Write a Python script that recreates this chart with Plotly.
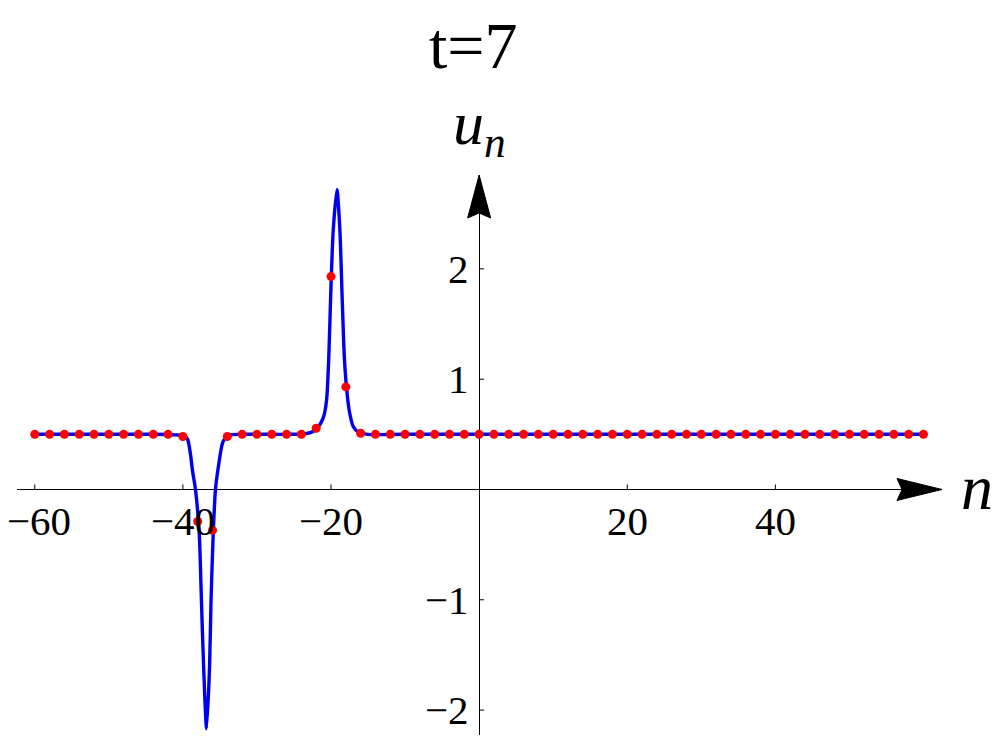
import plotly.graph_objects as go

# lattice sites n and u_n values (red dots)
SITES = [-60, -58, -56, -54, -52, -50, -48, -46, -44, -42, -40, -38, -36, -34,
         -32, -30, -28, -26, -24, -22, -20, -18, -16, -14, -12, -10, -8, -6,
         -4, -2, 0, 2, 4, 6, 8, 10, 12, 14, 16, 18, 20, 22, 24, 26, 28, 30, 32,
         34, 36, 38, 40, 42, 44, 46, 48, 50, 52, 54, 56, 58, 60]
SITE_U = [0.5, 0.5, 0.5, 0.5, 0.5, 0.5, 0.5, 0.5, 0.5, 0.5, 0.48, -0.29, -0.37,
          0.48, 0.5, 0.5, 0.5, 0.5, 0.5, 0.555, 1.93, 0.93, 0.51, 0.5, 0.5,
          0.5, 0.5, 0.5, 0.5, 0.5, 0.5, 0.5, 0.5, 0.5, 0.5, 0.5, 0.5, 0.5,
          0.5, 0.5, 0.5, 0.5, 0.5, 0.5, 0.5, 0.5, 0.5, 0.5, 0.5, 0.5, 0.5,
          0.5, 0.5, 0.5, 0.5, 0.5, 0.5, 0.5, 0.5, 0.5, 0.5]

# continuous solution (blue curve), samples
CURVE_N = [-60, -44, -41, -40, -39.4, -39.0, -38.7, -38.3, -37.8, -37.5,
           -37.2, -36.8, -36.4, -36.2, -35.9, -35.6, -35.2, -34.6, -33.9,
           -32, -26, -23.5, -22.6, -21.85, -21.0, -20.6, -20.3, -20.0,
           -19.7, -19.2, -18.8, -18.5, -18.2, -17.9, -17.5, -17.0, -16.3,
           -15, -10, 60]
CURVE_U = [0.5, 0.5, 0.495, 0.49, 0.46, 0.33, 0.17, 0.0, -0.39, -1.0,
           -1.61, -2.17, -1.61, -1.0, -0.39, 0.0, 0.21, 0.43, 0.49,
           0.5, 0.5, 0.505, 0.52, 0.555, 0.66, 0.81, 1.2, 1.85,
           2.35, 2.72, 2.35, 1.75, 1.2, 0.92, 0.7, 0.57, 0.52,
           0.5, 0.5, 0.5]

X_TICKS = [-60, -40, -20, 20, 40]
Y_TICKS = [-2, -1, 1, 2]
X_RANGE = [-62.4, 62.5]
Y_RANGE = [-2.226, 2.851]

SERIF = "Liberation Serif, Times New Roman, serif"


def _lbl(v):
    return f"\u2212{abs(v)}" if v < 0 else str(v)


fig = go.Figure()
fig.add_trace(go.Scatter(
    x=CURVE_N, y=CURVE_U, mode="lines",
    line=dict(color="#0000f0", width=3.4, shape="spline", smoothing=0.7),
    hoverinfo="skip",
))
fig.add_trace(go.Scatter(
    x=SITES, y=SITE_U, mode="markers",
    marker=dict(color="#ff0000", size=9, line=dict(width=0)),
))

shapes = []
for t in X_TICKS:
    shapes.append(dict(type="line", xref="x", yref="y", x0=t, x1=t,
                       ysizemode="pixel", yanchor=0, y0=0, y1=5,
                       line=dict(color="black", width=1)))
for t in Y_TICKS:
    shapes.append(dict(type="line", xref="x", yref="y", y0=t, y1=t,
                       xsizemode="pixel", xanchor=0, x0=0, x1=5,
                       line=dict(color="black", width=1)))
# arrow heads at the ends of both axes
shapes.append(dict(type="path", xref="x", yref="y",
                   xsizemode="pixel", xanchor=X_RANGE[1],
                   ysizemode="pixel", yanchor=0,
                   path="M0,0 L-45,11 L-40,0 L-45,-11 Z",
                   fillcolor="black", line=dict(color="black", width=1)))
shapes.append(dict(type="path", xref="x", yref="y",
                   xsizemode="pixel", xanchor=0,
                   ysizemode="pixel", yanchor=Y_RANGE[1],
                   path="M0,0 L-11.5,-43 L0,-38 L11.5,-43 Z",
                   fillcolor="black", line=dict(color="black", width=1)))

annotations = []
for t in X_TICKS:
    # leftmost label nudged so it stays inside the page
    annotations.append(dict(x=t, y=0, xref="x", yref="y", text=_lbl(t),
                            showarrow=False, xanchor="center",
                            yanchor="middle", yshift=-32,
                            xshift=4 if t == X_TICKS[0] else 0,
                            font=dict(family=SERIF, size=41, color="black")))
for t in Y_TICKS:
    annotations.append(dict(x=0, y=t, xref="x", yref="y", text=_lbl(t),
                            showarrow=False, xanchor="right",
                            yanchor="middle", xshift=-8,
                            font=dict(family=SERIF, size=41, color="black")))
annotations.append(dict(x=0.4935, y=1.232, xref="paper", yref="paper",
                        text="t=7", showarrow=False,
                        xanchor="center", yanchor="middle",
                        font=dict(family=SERIF, size=66, color="black")))
annotations.append(dict(x=0, y=1.084, xref="x", yref="paper",
                        text="<i>u</i><sub><i>n</i></sub>", showarrow=False,
                        xanchor="center", yanchor="middle",
                        font=dict(family=SERIF, size=62, color="black")))
annotations.append(dict(x=1.038, y=0, xref="paper", yref="y",
                        text="<i>n</i>", showarrow=False,
                        xanchor="center", yanchor="middle", yshift=2,
                        font=dict(family=SERIF, size=64, color="black")))

# page body adds an 8px offset, so the figure is shrunk to fit the window
fig.update_layout(
    width=992, height=730,
    paper_bgcolor="white", plot_bgcolor="white",
    margin=dict(l=9, r=58, t=167, b=3, autoexpand=False),
    showlegend=False,
    shapes=shapes,
    annotations=annotations,
    xaxis=dict(range=X_RANGE, showgrid=False, showticklabels=False,
               ticks="", showline=False, zeroline=True,
               zerolinecolor="black", zerolinewidth=1),
    yaxis=dict(range=Y_RANGE, showgrid=False, showticklabels=False,
               ticks="", showline=False, zeroline=True,
               zerolinecolor="black", zerolinewidth=1),
)

fig.write_html("out.html")
